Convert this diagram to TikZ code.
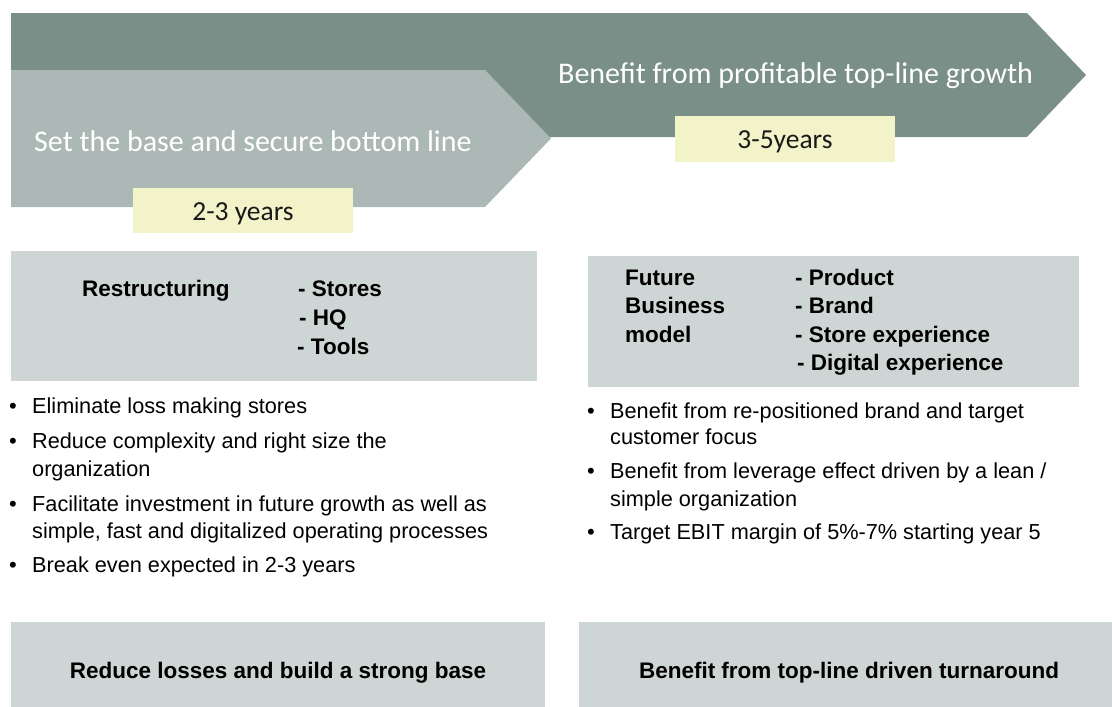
\documentclass[tikz,border=0pt]{standalone}
\usepackage{fontspec}
\setmainfont{Liberation Sans}
\newfontfamily\calib{Carlito}
\definecolor{darkarrow}{RGB}{123,143,137}
\definecolor{lightarrow}{RGB}{172,184,181}
\definecolor{yellowbox}{RGB}{243,243,201}
\definecolor{graybox}{RGB}{206,213,213}
\definecolor{yeartext}{RGB}{25,25,25}
\begin{document}
\begin{tikzpicture}[x=1pt,y=-1pt,
  body/.style={anchor=base west, inner sep=0pt, font=\fontsize{21.7}{26}\selectfont},
  bhead/.style={anchor=base west, inner sep=0pt, font=\fontsize{22.5}{26}\selectfont\bfseries},
  bcenter/.style={anchor=base, inner sep=0pt, font=\fontsize{22.5}{26}\selectfont\bfseries},
  bulletmark/.style={anchor=base, inner sep=0pt, font=\fontsize{22}{26}\selectfont},
  title/.style={anchor=base west, inner sep=0pt, text=white, font=\calib\fontsize{30}{36}\selectfont},
  yr/.style={anchor=base, inner sep=0pt, text=yeartext, font=\calib\fontsize{27.5}{32}\selectfont},
  panel/.style={fill=graybox, draw=none},
  yellowpanel/.style={fill=yellowbox, draw=none}
]
\useasboundingbox (0,0) rectangle (1112,707);

% arrows
\fill[darkarrow] (11,13) -- (1027,13) -- (1086,75) -- (1027,137) -- (11,137) -- cycle;
\fill[lightarrow] (11,70) -- (485,70) -- (551,138.5) -- (485,207) -- (11,207) -- cycle;
\node[title] (t2) at (558,83) {Benefit from profitable top-line growth};
\node[title] (t1) at (34,151) {Set the base and secure bottom line};

% year boxes
\path[yellowpanel] (675,116) rectangle (895,162);
\node[yr] (y2) at (785,148) {3-5years};
\path[yellowpanel] (133,188) rectangle (353,233);
\node[yr] (y1) at (243,220) {2-3 years};

% upper grey boxes
\path[panel] (11,251) rectangle (537,381);
\node[bhead] (r0) at (82,296) {Restructuring};
\node[bhead] (r1) at (298,296) {- Stores};
\node[bhead] (r2) at (299,325) {- HQ};
\node[bhead] (r3) at (297,354) {- Tools};

\path[panel] (588,256) rectangle (1079,387);
\node[bhead] (f0) at (625,285) {Future};
\node[bhead] (f1) at (625,313.5) {Business};
\node[bhead] (f2) at (625,342) {model};
\node[bhead] (p1) at (795,285) {- Product};
\node[bhead] (p2) at (795,313.5) {- Brand};
\node[bhead] (p3) at (795,342) {- Store experience};
\node[bhead] (p4) at (797,370.5) {- Digital experience};

% left bullets
\node[bulletmark] (lb1) at (13,413) {•};
\node[body] (la1) at (32,413) {Eliminate loss making stores};
\node[bulletmark] (lb2) at (13,448) {•};
\node[body] (la2) at (32,448) {Reduce complexity and right size the};
\node[body] (la2b) at (32,476) {organization};
\node[bulletmark] (lb3) at (13,511) {•};
\node[body] (la3) at (32,511) {Facilitate investment in future growth as well as};
\node[body] (la3b) at (32,538) {simple, fast and digitalized operating processes};
\node[bulletmark] (lb4) at (13,572) {•};
\node[body] (la4) at (32,572) {Break even expected in 2-3 years};

% right bullets
\node[bulletmark] (rb1) at (591,418) {•};
\node[body] (ra1) at (610,418) {Benefit from re-positioned brand and target};
\node[body] (ra1b) at (610,444) {customer focus};
\node[bulletmark] (rb2) at (591,478) {•};
\node[body] (ra2) at (610,478) {Benefit from leverage effect driven by a lean /};
\node[body] (ra2b) at (610,506) {simple organization};
\node[bulletmark] (rb3) at (591,539) {•};
\node[body] (ra3) at (610,539) {Target EBIT margin of 5\%-7\% starting year 5};

% bottom boxes
\path[panel] (11,622) rectangle (545,707);
\node[bcenter] (s1) at (278,678) {Reduce losses and build a strong base};
\path[panel] (579,622) rectangle (1112,707);
\node[bcenter] (s2) at (849,678) {Benefit from top-line driven turnaround};
\end{tikzpicture}
\end{document}
